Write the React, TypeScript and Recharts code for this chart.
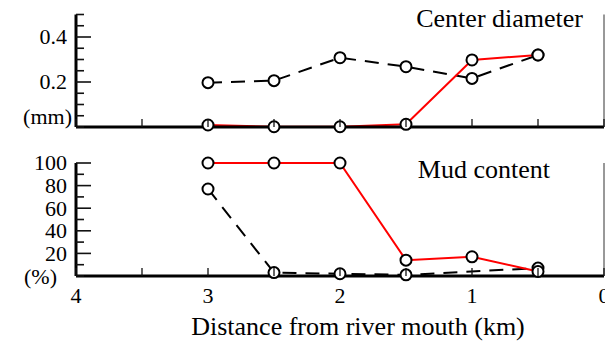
import React from 'react';
import { LineChart, Line, XAxis, YAxis } from 'recharts';

// Distance from river mouth (km)
const distance = [3, 2.5, 2, 1.5, 1, 0.5];
// Center diameter (mm)
const diameterRed = [0.009, 0.001, 0.001, 0.012, 0.298, 0.32];
const diameterDashed = [0.197, 0.206, 0.308, 0.268, 0.216, 0.32];
// Mud content (%)
const mudRed = [100, 100, 100, 14, 17, 4];
const mudDashed: (number | null)[] = [77, 3, 2, 1, null, 7];

const xTicks = [0, 0.5, 1, 1.5, 2, 2.5, 3, 3.5, 4];
const xTickLabels = [0, 1, 2, 3, 4];
const diameterTicks = [0, 0.05, 0.1, 0.15, 0.2, 0.25, 0.3, 0.35, 0.4, 0.45, 0.5];
const diameterLabels = [0.2, 0.4];
const mudTicks = [0, 10, 20, 30, 40, 50, 60, 70, 80, 90, 100];
const mudLabels = [20, 40, 60, 80, 100];

const diameterRows = distance.map((d, i) => ({ d, red: diameterRed[i], dashed: diameterDashed[i] }));
const mudRows = distance.map((d, i) => ({ d, red: mudRed[i], dashed: mudDashed[i] }));

const FONT = '"Liberation Serif", "Times New Roman", serif';
const TICK_MARGIN = 9;

function YTick(props: any) {
  const { x, y, payload, side, majors, labels } = props;
  const v = payload.value;
  const len = majors.includes(v) ? 15 : 8;
  if (side === 'left') {
    const ax = x + TICK_MARGIN;
    return (
      <g>
        <line x1={ax} x2={ax + len} y1={y} y2={y} stroke="#111" strokeWidth={1.6} />
        {labels.includes(v) && (
          <text x={x} y={y} dy="0.34em" textAnchor="end" fontFamily={FONT} fontSize={22} fill="#000">
            {String(v)}
          </text>
        )}
      </g>
    );
  }
  return <line x1={x} x2={x - len} y1={y} y2={y} stroke="#222" strokeWidth={1.5} />;
}

function XTick(props: any) {
  const { x, y, payload, showLabels } = props;
  const v = payload.value;
  return (
    <g>
      <line x1={x} x2={x} y1={y} y2={y - 8} stroke="#111" strokeWidth={1.3} />
      {showLabels && xTickLabels.includes(v) && (
        <text x={x} y={y + 27} textAnchor="middle" fontFamily={FONT} fontSize={22} fill="#000">
          {String(v)}
        </text>
      )}
    </g>
  );
}

const dot = { r: 5.5, fill: '#fff', stroke: '#000', strokeWidth: 2, strokeDasharray: '0' };

function Panel(props: {
  rows: any[];
  height: number;
  top: number;
  xAxisHeight: number;
  domain: [number, number];
  ticks: number[];
  labels: number[];
  majors: number[];
  children?: React.ReactNode;
}) {
  const { rows, height, top, xAxisHeight, domain, ticks, labels, majors, children } = props;
  return (
    <LineChart width={605} height={height} data={rows} margin={{ top, right: 0, left: 0, bottom: 0 }}>
      <XAxis
        dataKey="d"
        type="number"
        domain={[0, 4]}
        reversed
        ticks={xTicks}
        interval={0}
        height={xAxisHeight}
        tickSize={0}
        tickMargin={0}
        tickLine={false}
        axisLine={{ stroke: '#000', strokeWidth: 3 }}
        tick={(p: any) => <XTick {...p} showLabels={xAxisHeight > 20} />}
      />
      <YAxis
        yAxisId="left"
        orientation="left"
        width={76}
        type="number"
        domain={domain}
        ticks={ticks}
        interval={0}
        tickSize={0}
        tickMargin={TICK_MARGIN}
        tickLine={false}
        axisLine={{ stroke: '#000', strokeWidth: 3 }}
        tick={(p: any) => <YTick {...p} side="left" majors={majors} labels={labels} />}
      />
      <YAxis
        yAxisId="right"
        orientation="right"
        width={1}
        type="number"
        domain={domain}
        ticks={ticks}
        interval={0}
        tickSize={0}
        tickMargin={0}
        tickLine={false}
        axisLine={{ stroke: '#333', strokeWidth: 1 }}
        tick={(p: any) => <YTick {...p} side="right" majors={majors} labels={labels} />}
      />
      <Line
        yAxisId="left"
        dataKey="dashed"
        stroke="#000"
        strokeWidth={2}
        strokeDasharray="14 9"
        dot={dot}
        connectNulls
        isAnimationActive={false}
      />
      <Line
        yAxisId="left"
        dataKey="red"
        stroke="#ff0000"
        strokeWidth={2}
        dot={dot}
        isAnimationActive={false}
      />
      {children}
    </LineChart>
  );
}

export default function App() {
  return (
    <div style={{ position: 'absolute', left: 0, top: 0, width: 605, height: 344, overflow: 'hidden', background: '#fff' }}>
      <div style={{ position: 'absolute', left: 0, top: 0 }}>
        <Panel
          rows={diameterRows}
          height={140}
          top={14.5}
          xAxisHeight={13}
          domain={[0, 0.5]}
          ticks={diameterTicks}
          labels={diameterLabels}
          majors={diameterLabels}
        >
          <text x={583} y={27} textAnchor="end" fontFamily={FONT} fontSize={26} fill="#000">Center diameter</text>
          <text x={72} y={124} textAnchor="end" fontFamily={FONT} fontSize={22} fill="#000">(mm)</text>
        </Panel>
      </div>
      <div style={{ position: 'absolute', left: 0, top: 140 }}>
        <Panel
          rows={mudRows}
          height={204}
          top={23}
          xAxisHeight={68}
          domain={[0, 100]}
          ticks={mudTicks}
          labels={mudLabels}
          majors={mudLabels.concat([100])}
        >
          <text x={550} y={38} textAnchor="end" fontFamily={FONT} fontSize={26} fill="#000">Mud content</text>
          <text x={57} y={144} textAnchor="end" fontFamily={FONT} fontSize={22} fill="#000">(%)</text>
          <text x={358} y={195} textAnchor="middle" fontFamily={FONT} fontSize={26} fill="#000">Distance from river mouth (km)</text>
        </Panel>
      </div>
    </div>
  );
}
